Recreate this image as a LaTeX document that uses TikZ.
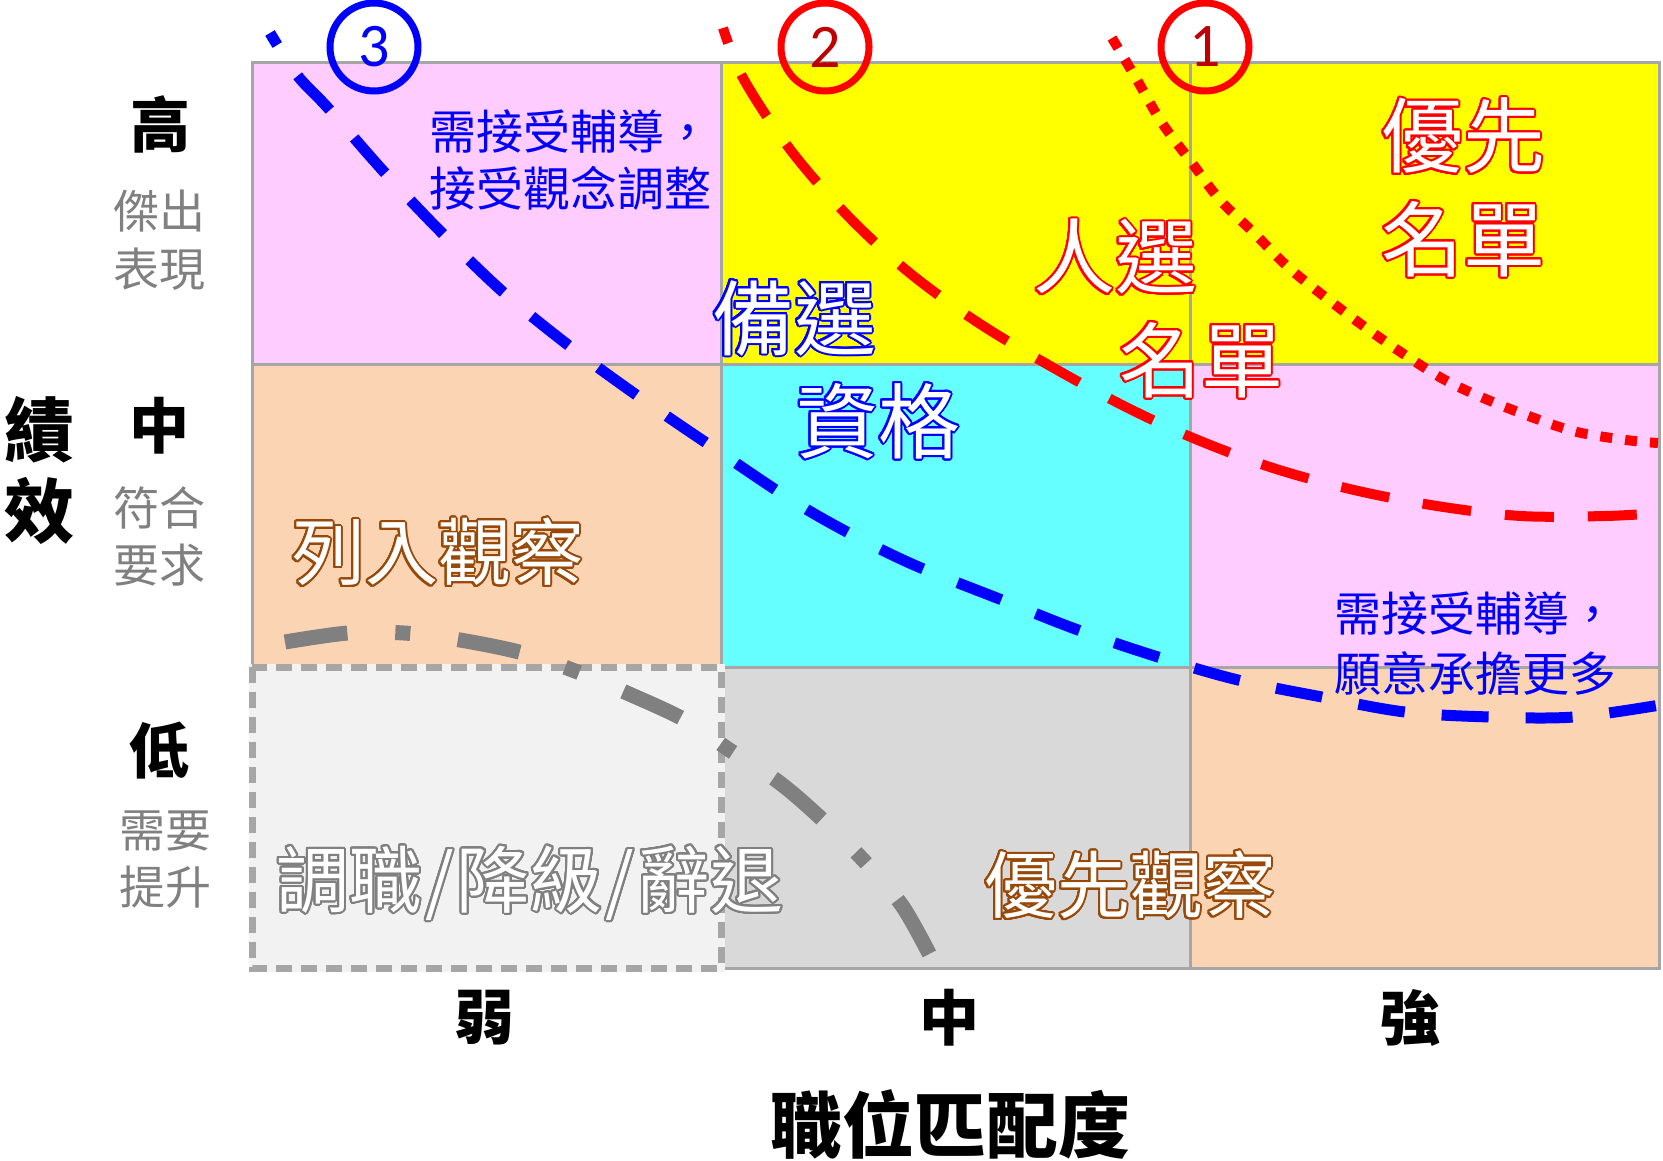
\documentclass[tikz,border=0pt]{standalone}
\usepackage{fontspec}
\setmainfont{Noto Sans CJK TC}
\newfontfamily\digitfont{Carlito}
\usepackage{contour}
\contourlength{2pt}
\contournumber{32}
\definecolor{cpink}{RGB}{255,204,255}
\definecolor{cyel}{RGB}{255,255,0}
\definecolor{cpeach}{RGB}{251,212,180}
\definecolor{ccyan}{RGB}{102,255,255}
\definecolor{clg}{RGB}{242,242,242}
\definecolor{cdg}{RGB}{217,217,217}
\definecolor{cgrid}{RGB}{166,166,166}
\definecolor{cbrown}{RGB}{152,72,7}
\definecolor{cdred}{RGB}{192,0,0}
\definecolor{cgtext}{RGB}{128,128,128}
\definecolor{ccurve}{RGB}{128,128,128}
\newcommand\fs[1]{\fontsize{#1}{#1}\selectfont}
\tikzset{
  cell/.style={draw=cgrid, line width=3pt},
  big/.style={inner sep=0pt, text=white, font=\fs{82}},
  mid/.style={inner sep=0pt, text=white, font=\fs{73}},
  note/.style={inner sep=0pt, text=blue, font=\fs{47}, anchor=west},
  axisbig/.style={inner sep=0pt, font=\bfseries\fs{60}},
  axissub/.style={inner sep=0pt, text=cgtext, font=\fs{46}},
  numcirc/.style={circle, line width=7pt, minimum size=88pt, inner sep=0pt, font=\digitfont\fs{62}},
  bluecurve/.style={draw=blue, line width=11pt, dash pattern=on 47pt off 37pt, dash phase=33pt},
  redcurve/.style={draw=red, line width=10pt, dash pattern=on 49pt off 34pt, dash phase=33pt},
  reddots/.style={draw=red, line width=10pt, dash pattern=on 12pt off 13pt},
  graycurve/.style={draw=ccurve, line width=15pt, dash pattern=on 63pt off 48pt on 15pt off 48pt},
}
\begin{document}
\begin{tikzpicture}[x=1pt,y=-1pt]
\useasboundingbox (0,0) rectangle (1663,1160);
% cells
\path[cell, fill=cpink]  (252,62) rectangle (721,364);
\path[cell, fill=cyel]   (721,62) rectangle (1190,364);
\path[cell, fill=cyel]   (1190,62) rectangle (1659,364);
\path[cell, fill=cpeach] (252,364) rectangle (721,667);
\path[cell, fill=ccyan]  (721,364) rectangle (1190,667);
\path[cell, fill=cpink]  (1190,364) rectangle (1659,667);
\path[cell, fill=cdg]    (721,667) rectangle (1190,968);
\path[cell, fill=cpeach] (1190,667) rectangle (1659,968);
\path[fill=clg] (252,667) rectangle (721,968);
\draw[clg, line width=7pt] (252,667) rectangle (721,968);
\draw[cgrid, line width=7pt, dash pattern=on 16pt off 9pt] (252,667) rectangle (721,968);

% curves
\draw[bluecurve] plot[smooth, tension=0.55] coordinates {(270,33) (297,75) (328,108) (385,173) (442,233) (503,292) (568,345) (635,394) (705,442) (806,509) (903,560) (1002,600) (1078,630) (1158,657) (1238,680) (1322,697) (1405,712) (1491,717) (1574,717) (1660,705)};
\draw[redcurve] plot[smooth, tension=0.55] coordinates {(723,28) (743,78) (789,148) (845,213) (906,270) (974,320) (1045,363) (1122,405) (1193,438) (1273,468) (1354,490) (1437,506) (1521,516) (1605,516) (1660,513)};
\draw[reddots] plot[smooth, tension=0.55] coordinates {(1112,38) (1137,80) (1162,123) (1192,163) (1220,200) (1254,233) (1288,267) (1325,297) (1362,325) (1402,353) (1445,380) (1488,400) (1534,418) (1577,432) (1626,440) (1658,443)};
\draw[graycurve] plot[smooth, tension=0.55] coordinates {(285,642) (348,633) (404,633) (460,640) (523,653) (575,671) (627,693) (685,720) (731,751) (780,783) (826,823) (866,863) (903,907) (934,963)};

% circled numbers
\node[numcirc, draw=blue, text=blue] (c3) at (374,47) {3};
\node[numcirc, draw=red, text=cdred] (c2) at (825,47) {2};
\node[numcirc, draw=red, text=cdred] (c1) at (1205,47) {1};

% cell texts
\node[note] (n1a) at (429,132) {需接受輔導，};
\node[note] (n1b) at (429,188) {接受觀念調整};
\node[note] (n2a) at (1334,614) {需接受輔導，};
\node[note] (n2b) at (1334,673) {願意承擔更多};

\node[big] (t1a) at (1463,137) {\contour{red}{優先}};
\node[big] (t1b) at (1463,240) {\contour{red}{名單}};
\node[big] (t2a) at (1115,258) {\contour{red}{人選}};
\node[big] (t2b) at (1201,361) {\contour{red}{名單}};
\node[big] (t3a) at (794,319) {\contour{blue}{備選}};
\node[big] (t3b) at (878,422) {\contour{blue}{資格}};
\node[mid] (t4) at (438,553) {\contour{cbrown}{列入觀察}};
\node[mid, anchor=west] (t5) at (276,884) {\contour{cgtext}{調職\kern3pt/\kern3pt降級\kern3pt/\kern3pt辭退}};
\node[mid] (t6) at (1130,886) {\contour{cbrown}{優先觀察}};

% left axis
\node[inner sep=0pt, font=\bfseries\fs{70}] (py1) at (40,430) {績};
\node[inner sep=0pt, font=\bfseries\fs{70}] (py2) at (40,511) {效};
\node[axisbig] (hi) at (160,124) {高};
\node[axissub] (hi1) at (159,211) {傑出};
\node[axissub] (hi2) at (159,269) {表現};
\node[axisbig] (me) at (159,426) {中};
\node[axissub] (me1) at (159,508) {符合};
\node[axissub] (me2) at (159,565) {要求};
\node[axisbig] (lo) at (159,751) {低};
\node[axissub] (lo1) at (165,831) {需要};
\node[axissub] (lo2) at (165,887) {提升};

% bottom axis
\node[axisbig] (wk) at (484,1018) {弱};
\node[axisbig] (md) at (949,1018) {中};
\node[axisbig] (st) at (1410,1018) {強};
\node[inner sep=0pt, font=\bfseries\fs{72}] (px) at (950,1124) {職位匹配度};
\end{tikzpicture}
\end{document}
